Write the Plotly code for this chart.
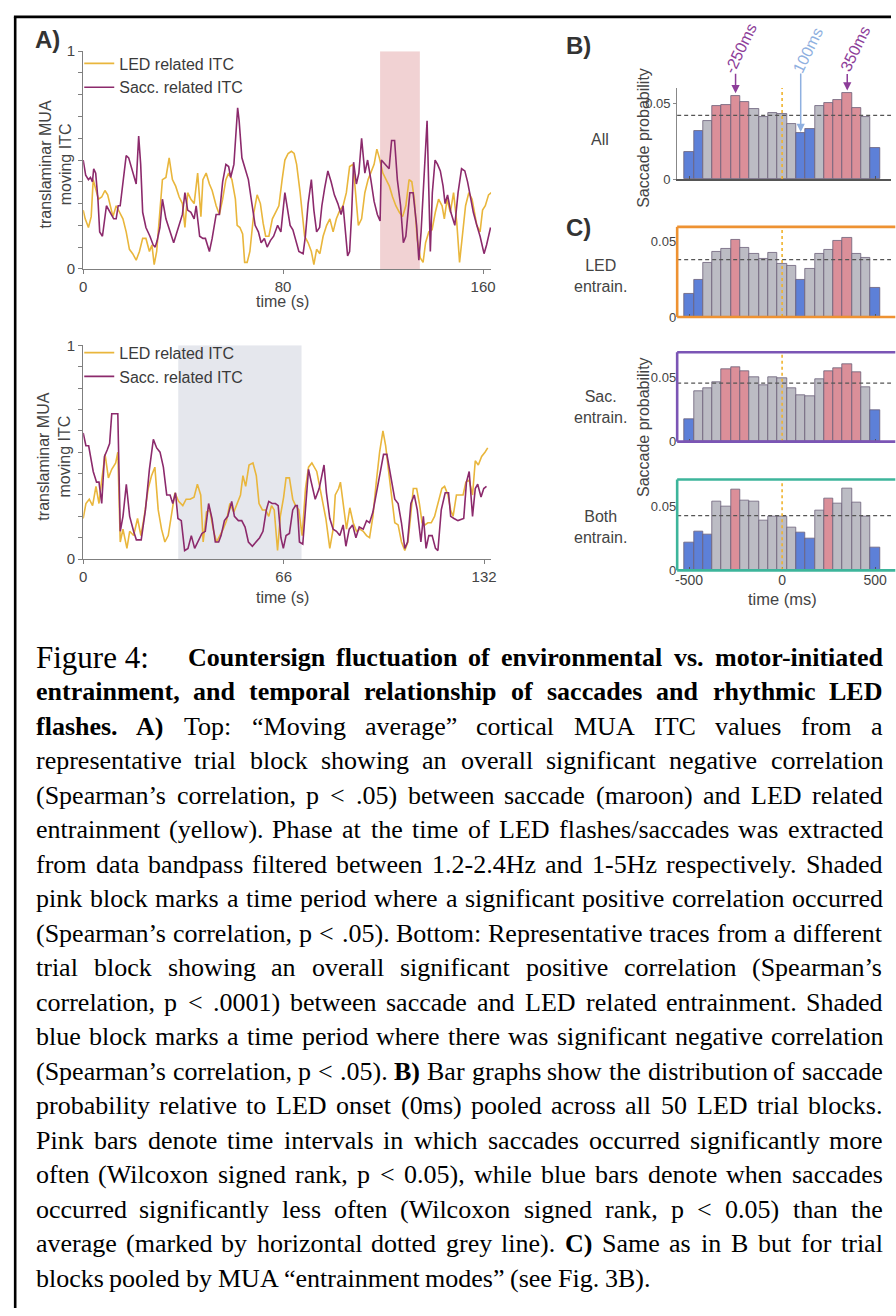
import plotly.graph_objects as go

W, H = 896, 1316
def px(x): return x / W
def py(y): return 1 - y / H

SANS = "Liberation Sans, Arial, Helvetica, sans-serif"
SERIF = "Liberation Serif, Times New Roman, serif"
YELLOW = "#e9b63c"
MAROON = "#8c2a6c"
BLUE = "#5d80d8"
PINK = "#db8f99"
GREY = "#bcbcc4"
C_LED = "#ee9232"
C_SAC = "#7b55b5"
C_BOTH = "#3db59b"
TXT = "#3a3a3a"

# ---------------- Panel A (top) ----------------
top_t_sacc = [0.0, 1.0, 2.1, 2.9, 3.7, 4.2, 5.0, 5.9, 6.6, 7.7,
              9.3, 10.6, 12.2, 13.2, 14.0, 14.8, 17.2, 18.2, 19.8, 21.2,
              22.2, 23.0, 23.8, 25.1, 26.7, 28.0, 28.8, 29.6, 30.7, 31.7,
              33.1, 34.4, 36.2, 37.8, 39.7, 40.7, 41.8, 43.1, 44.4, 45.2,
              46.6, 47.9, 48.9, 50.5, 51.6, 53.2, 54.5, 55.8, 57.1, 58.2,
              59.0, 60.3, 61.8, 62.4, 63.5, 64.8, 66.1, 67.5, 68.8, 70.1,
              71.2, 72.5, 73.6, 74.9, 76.2, 77.8, 79.1, 80.7, 81.8, 82.8,
              83.9, 84.9, 86.3, 88.0, 88.9, 90.0, 91.3, 92.3, 93.4, 94.6,
              95.5, 96.6, 97.9, 99.2, 100.5, 101.9, 103.2, 104.0, 105.8, 106.6,
              107.4, 108.2, 109.3, 110.3, 111.4, 112.7, 113.8, 115.1, 116.4, 117.7,
              118.8, 119.3, 121.0, 122.4, 123.4, 124.6, 125.7, 127.0, 128.1, 129.1,
              130.7, 132.0, 133.4, 134.3, 135.2, 137.6, 138.9, 139.7, 140.8, 141.8,
              142.9, 144.0, 144.8, 145.8, 147.1, 148.7, 150.0, 151.4, 152.7, 153.8,
              154.8, 156.1, 157.5, 158.8, 160.4, 161.4, 163.0]
top_sacc = [0.50, 0.43, 0.41, 0.42, 0.40, 0.46, 0.44, 0.32, 0.17, 0.15,
            0.29, 0.26, 0.23, 0.23, 0.29, 0.29, 0.52, 0.51, 0.45, 0.39,
            0.61, 0.48, 0.26, 0.19, 0.15, 0.11, 0.10, 0.13, 0.19, 0.32,
            0.23, 0.18, 0.12, 0.18, 0.25, 0.35, 0.27, 0.26, 0.23, 0.29,
            0.15, 0.14, 0.14, 0.08, 0.14, 0.25, 0.25, 0.40, 0.48, 0.47,
            0.42, 0.48, 0.74, 0.68, 0.51, 0.46, 0.41, 0.30, 0.20, 0.17,
            0.12, 0.14, 0.10, 0.13, 0.15, 0.20, 0.17, 0.35, 0.26, 0.20,
            0.18, 0.14, 0.08, 0.07, 0.15, 0.30, 0.41, 0.27, 0.17, 0.19,
            0.29, 0.37, 0.45, 0.40, 0.34, 0.30, 0.25, 0.29, 0.06, 0.08,
            0.25, 0.49, 0.39, 0.44, 0.60, 0.44, 0.50, 0.41, 0.31, 0.25,
            0.22, 0.50, 0.48, 0.46, 0.59, 0.59, 0.41, 0.29, 0.12, 0.15,
            0.35, 0.35, 0.20, 0.04, 0.17, 0.68, 0.08, 0.35, 0.50, 0.48,
            0.45, 0.38, 0.30, 0.34, 0.26, 0.20, 0.35, 0.46, 0.45, 0.40,
            0.34, 0.26, 0.20, 0.15, 0.07, 0.11, 0.19]
top_t_led = [0.0, 0.8, 2.1, 3.2, 4.0, 5.0, 6.1, 7.4, 8.7, 9.8,
             10.8, 11.9, 13.2, 14.5, 15.9, 17.2, 18.5, 19.8, 21.2, 22.5,
             23.8, 25.1, 26.5, 27.5, 28.4, 29.4, 30.4, 31.7, 33.1, 34.4,
             35.7, 37.0, 38.4, 39.7, 40.7, 41.8, 43.1, 44.4, 45.8, 47.1,
             47.9, 49.2, 50.5, 51.6, 53.2, 54.5, 55.8, 57.1, 58.2, 59.5,
             60.9, 61.6, 62.7, 63.8, 64.6, 65.6, 66.7, 68.3, 69.6, 70.9,
             72.0, 73.0, 74.3, 75.7, 77.0, 78.3, 79.6, 80.7, 82.0, 83.3,
             84.4, 85.4, 86.8, 87.6, 88.6, 90.0, 91.3, 92.3, 93.4, 94.7,
             96.0, 97.4, 98.7, 100.0, 101.3, 102.7, 104.0, 105.3, 106.6, 108.0,
             109.0, 110.1, 111.4, 112.7, 114.0, 115.4, 116.4, 117.5, 118.5, 119.9,
             121.2, 122.5, 123.8, 125.1, 126.5, 127.8, 129.1, 130.4, 131.5, 132.5,
             133.6, 134.9, 136.0, 137.0, 138.3, 139.6, 140.9, 142.2, 143.6, 144.5,
             145.6, 146.9, 148.2, 149.5, 150.6, 151.6, 153.0, 154.3, 155.6, 156.4,
             157.5, 158.8, 159.8, 160.9, 162.2, 163.3]
top_led = [0.27, 0.23, 0.19, 0.24, 0.41, 0.37, 0.32, 0.33, 0.36, 0.34,
           0.29, 0.24, 0.29, 0.26, 0.23, 0.17, 0.09, 0.07, 0.04, 0.08,
           0.14, 0.14, 0.08, 0.11, 0.02, 0.08, 0.21, 0.41, 0.42, 0.51,
           0.41, 0.38, 0.33, 0.30, 0.19, 0.35, 0.32, 0.30, 0.44, 0.24,
           0.41, 0.44, 0.39, 0.36, 0.29, 0.25, 0.32, 0.41, 0.44, 0.41,
           0.32, 0.20, 0.19, 0.16, 0.03, 0.03, 0.08, 0.26, 0.34, 0.30,
           0.21, 0.15, 0.15, 0.23, 0.26, 0.29, 0.41, 0.50, 0.53, 0.54,
           0.53, 0.48, 0.35, 0.26, 0.15, 0.12, 0.08, 0.02, 0.09, 0.07,
           0.15, 0.20, 0.23, 0.17, 0.23, 0.27, 0.29, 0.35, 0.47, 0.48,
           0.35, 0.20, 0.23, 0.35, 0.41, 0.45, 0.48, 0.55, 0.51, 0.44,
           0.41, 0.38, 0.33, 0.29, 0.26, 0.24, 0.29, 0.41, 0.40, 0.32,
           0.14, 0.05, 0.03, 0.12, 0.17, 0.18, 0.26, 0.32, 0.29, 0.23,
           0.32, 0.26, 0.35, 0.21, 0.03, 0.14, 0.29, 0.35, 0.32, 0.27,
           0.20, 0.17, 0.27, 0.29, 0.34, 0.35]
top_shade = [118.8, 134.7]

# ---------------- Panel A (bottom) ----------------
bot_t_sacc = [0.0, 0.9, 1.8, 2.6, 3.3, 4.4, 5.2, 6.1, 7.0, 7.9,
              8.7, 9.4, 11.4, 12.2, 13.1, 14.2, 15.3, 16.6, 17.5, 19.1,
              20.5, 21.8, 23.1, 24.2, 25.3, 26.4, 27.5, 28.6, 29.5, 30.4,
              31.2, 32.3, 33.4, 34.5, 35.6, 36.7, 37.8, 39.1, 40.2, 41.3,
              42.4, 43.5, 44.6, 45.4, 46.5, 47.6, 48.9, 49.8, 51.1, 52.2,
              53.3, 54.4, 55.7, 56.8, 58.1, 59.2, 60.3, 61.1, 62.2, 63.3,
              64.2, 65.1, 65.9, 66.8, 67.9, 69.0, 69.9, 70.5, 71.2, 72.3,
              73.4, 74.2, 75.1, 76.4, 77.7, 79.3, 80.1, 81.2, 82.3, 83.4,
              84.5, 85.6, 86.5, 87.6, 88.7, 89.8, 90.9, 92.2, 93.3, 94.3,
              95.4, 96.5, 97.6, 98.9, 100.0, 100.9, 101.8, 102.6, 103.7, 104.8,
              105.9, 106.8, 107.9, 109.0, 110.0, 111.2, 112.0, 112.9, 113.8, 114.9,
              116.0, 116.8, 117.9, 119.2, 120.3, 121.0, 122.1, 123.4, 125.3, 126.2,
              127.1, 128.2, 129.1, 129.9, 131.0, 131.9, 132.8]
bot_sacc = [0.59, 0.53, 0.53, 0.46, 0.41, 0.36, 0.36, 0.26, 0.48, 0.51,
            0.54, 0.68, 0.68, 0.13, 0.20, 0.35, 0.20, 0.13, 0.09, 0.09,
            0.23, 0.42, 0.56, 0.52, 0.50, 0.43, 0.30, 0.30, 0.26, 0.31,
            0.19, 0.18, 0.04, 0.05, 0.11, 0.05, 0.08, 0.12, 0.13, 0.26,
            0.19, 0.08, 0.08, 0.11, 0.18, 0.20, 0.27, 0.20, 0.18, 0.18,
            0.15, 0.08, 0.06, 0.08, 0.10, 0.13, 0.23, 0.27, 0.26, 0.26,
            0.25, 0.10, 0.05, 0.11, 0.12, 0.23, 0.25, 0.25, 0.08, 0.07,
            0.26, 0.42, 0.36, 0.28, 0.33, 0.44, 0.31, 0.19, 0.14, 0.13,
            0.11, 0.16, 0.06, 0.14, 0.16, 0.10, 0.15, 0.14, 0.18, 0.17,
            0.22, 0.30, 0.39, 0.49, 0.49, 0.42, 0.34, 0.28, 0.26, 0.17,
            0.05, 0.08, 0.26, 0.30, 0.23, 0.08, 0.20, 0.05, 0.11, 0.11,
            0.05, 0.04, 0.23, 0.31, 0.31, 0.20, 0.19, 0.18, 0.19, 0.36,
            0.41, 0.20, 0.33, 0.35, 0.29, 0.33, 0.34]
bot_t_led = [0.0, 0.9, 2.0, 3.1, 4.2, 5.2, 6.1, 7.2, 8.3, 9.4,
             10.7, 11.4, 12.2, 13.1, 14.4, 15.3, 16.6, 17.9, 19.0, 20.1,
             21.4, 22.5, 23.6, 24.7, 25.8, 26.9, 28.0, 29.0, 30.2, 31.4,
             32.8, 33.9, 35.2, 36.5, 37.6, 38.7, 39.5, 40.6, 41.7, 42.8,
             43.9, 45.0, 46.1, 47.2, 48.3, 49.6, 50.7, 51.8, 52.6, 53.5,
             54.6, 55.9, 57.0, 57.9, 59.0, 60.1, 61.1, 62.0, 62.9, 64.0,
             64.9, 66.0, 66.8, 67.9, 69.0, 69.9, 71.0, 72.1, 73.2, 74.2,
             75.3, 76.9, 78.4, 79.9, 81.2, 82.3, 83.0, 84.1, 84.7, 85.6,
             86.7, 87.8, 88.9, 90.0, 91.1, 92.2, 93.3, 94.3, 95.4, 96.5,
             97.6, 98.7, 99.6, 100.5, 101.5, 102.6, 103.7, 104.8, 105.9, 106.9,
             107.6, 108.7, 109.8, 110.7, 111.6, 112.5, 113.5, 114.6, 115.7, 116.8,
             118.1, 119.0, 120.1, 121.0, 121.8, 122.9, 124.0, 125.1, 126.0, 127.1,
             128.2, 129.1, 130.1, 131.2, 132.3, 133.2]
bot_led = [0.19, 0.26, 0.28, 0.25, 0.34, 0.26, 0.37, 0.49, 0.38, 0.42,
           0.45, 0.50, 0.08, 0.14, 0.05, 0.13, 0.11, 0.19, 0.11, 0.20,
           0.33, 0.39, 0.43, 0.23, 0.14, 0.08, 0.11, 0.20, 0.31, 0.27,
           0.25, 0.28, 0.28, 0.29, 0.35, 0.30, 0.08, 0.22, 0.23, 0.14,
           0.08, 0.11, 0.14, 0.18, 0.26, 0.22, 0.26, 0.30, 0.39, 0.34,
           0.44, 0.45, 0.39, 0.26, 0.23, 0.23, 0.20, 0.25, 0.23, 0.04,
           0.20, 0.29, 0.38, 0.38, 0.28, 0.25, 0.23, 0.11, 0.33, 0.43,
           0.45, 0.41, 0.30, 0.19, 0.05, 0.14, 0.30, 0.33, 0.36, 0.25,
           0.14, 0.24, 0.17, 0.13, 0.14, 0.13, 0.11, 0.10, 0.20, 0.36,
           0.50, 0.60, 0.53, 0.42, 0.30, 0.17, 0.16, 0.08, 0.04, 0.08,
           0.17, 0.33, 0.33, 0.26, 0.17, 0.16, 0.17, 0.17, 0.20, 0.26,
           0.33, 0.34, 0.30, 0.23, 0.20, 0.30, 0.30, 0.30, 0.36, 0.37,
           0.30, 0.46, 0.44, 0.48, 0.50, 0.52]
bot_shade = [31.3, 71.9]

itc_ticks = [0, 0.1, 0.2, 0.3, 0.4, 0.5, 0.6, 0.7, 0.8, 0.9, 1.0]
itc_ticktext = ["0", "", "", "", "", "", "", "", "", "", "1"]

# ---------------- Panels B / C ----------------
bin_centers = [-500, -450, -400, -350, -300, -250, -200, -150, -100, -50, 0,
               50, 100, 150, 200, 250, 300, 350, 400, 450, 500]
prob_all = [0.0179, 0.0319, 0.0389, 0.0487, 0.0493, 0.0552, 0.0509, 0.0463, 0.0410, 0.0437, 0.0434,
            0.0369, 0.0303, 0.0336, 0.0483, 0.0504, 0.0526, 0.0570, 0.0472, 0.0410, 0.0205]
class_all = ["b", "b", "g", "p", "p", "p", "p", "g", "g", "g", "g",
             "g", "b", "b", "g", "p", "p", "p", "p", "g", "b"]
prob_led = [0.0154, 0.0248, 0.0362, 0.0434, 0.0452, 0.0511, 0.0458, 0.0421, 0.0388, 0.0425, 0.0357,
            0.0342, 0.0248, 0.0320, 0.0419, 0.0447, 0.0509, 0.0524, 0.0421, 0.0395, 0.0197]
class_led = ["b", "b", "g", "g", "g", "p", "g", "g", "g", "g", "g",
             "g", "b", "g", "g", "g", "p", "p", "g", "g", "b"]
prob_sac = [0.0174, 0.0395, 0.0420, 0.0462, 0.0562, 0.0577, 0.0546, 0.0503, 0.0436, 0.0500, 0.0497,
            0.0413, 0.0359, 0.0356, 0.0485, 0.0546, 0.0574, 0.0600, 0.0538, 0.0426, 0.0244]
class_sac = ["b", "g", "g", "g", "p", "p", "p", "g", "g", "g", "g",
             "g", "g", "g", "g", "p", "p", "p", "p", "g", "b"]
prob_both = [0.0218, 0.0305, 0.0279, 0.0533, 0.0497, 0.0631, 0.0541, 0.0538, 0.0392, 0.0421, 0.0421,
             0.0336, 0.0295, 0.0246, 0.0469, 0.0559, 0.0521, 0.0638, 0.0526, 0.0418, 0.0179]
class_both = ["b", "b", "b", "g", "g", "p", "g", "g", "g", "g", "g",
              "g", "b", "b", "g", "p", "g", "g", "g", "g", "b"]
mean_all, mean_led, mean_sac, mean_both = 0.0423, 0.0382, 0.0456, 0.0426
prob_ticks = [0, 0.05]
prob_ticktext = ["0", "0.05"]
ms_ticks = [-500, 0, 500]
ms_ticktext = ["-500", "0", "500"]
COLOR = {"b": BLUE, "p": PINK, "g": GREY}

fig = go.Figure()

# A traces
fig.add_trace(go.Scatter(x=top_t_led, y=top_led, mode="lines", name="LED related ITC",
                         line=dict(color=YELLOW, width=1.6), xaxis="x", yaxis="y", legend="legend"))
fig.add_trace(go.Scatter(x=top_t_sacc, y=top_sacc, mode="lines", name="Sacc. related ITC",
                         line=dict(color=MAROON, width=1.6), xaxis="x", yaxis="y", legend="legend"))
fig.add_trace(go.Scatter(x=bot_t_led, y=bot_led, mode="lines", name="LED related ITC",
                         line=dict(color=YELLOW, width=1.6), xaxis="x2", yaxis="y2", legend="legend2"))
fig.add_trace(go.Scatter(x=bot_t_sacc, y=bot_sacc, mode="lines", name="Sacc. related ITC",
                         line=dict(color=MAROON, width=1.6), xaxis="x2", yaxis="y2", legend="legend2"))

bar_panels = [("x3", "y3", prob_all, class_all, mean_all),
              ("x4", "y4", prob_led, class_led, mean_led),
              ("x5", "y5", prob_sac, class_sac, mean_sac),
              ("x6", "y6", prob_both, class_both, mean_both)]
for xa, ya, vals, cls, mean in bar_panels:
    fig.add_trace(go.Bar(x=bin_centers, y=vals, width=50,
                         marker=dict(color=[COLOR[c] for c in cls], line=dict(color="#6b6079", width=0.8)),
                         xaxis=xa, yaxis=ya, showlegend=False))

axA = dict(showline=True, linecolor="#7f7f7f", linewidth=1.3, ticks="outside", ticklen=4,
           tickwidth=1.2, tickcolor="#7f7f7f", showgrid=False, zeroline=False,
           tickfont=dict(family=SANS, size=15, color="#444"))

layout = dict(
    width=W, height=H, margin=dict(l=0, r=0, t=0, b=0),
    paper_bgcolor="white", plot_bgcolor="rgba(0,0,0,0)", bargap=0,
    xaxis=dict(domain=[px(80), px(492)], range=[0, 163.2], tickvals=[0, 80, 160], anchor="y", **axA),
    yaxis=dict(domain=[py(263.3), py(42.7)], range=[0, 1], tickvals=itc_ticks, ticktext=itc_ticktext, anchor="x", **axA),
    xaxis2=dict(domain=[px(80), px(492)], range=[0, 134.3], tickvals=[0, 66, 132], anchor="y2", **axA),
    yaxis2=dict(domain=[py(557.3), py(340.7)], range=[0, 1], tickvals=itc_ticks, ticktext=itc_ticktext, anchor="x2", **axA),
    legend=dict(x=px(76), y=py(38), xanchor="left", yanchor="top", bgcolor="rgba(0,0,0,0)",
                font=dict(family=SANS, size=16, color=TXT), itemwidth=30, tracegroupgap=0),
    legend2=dict(x=px(76), y=py(331), xanchor="left", yanchor="top", bgcolor="rgba(0,0,0,0)",
                 font=dict(family=SANS, size=16, color=TXT), itemwidth=30, tracegroupgap=0),
)

bx_dom = [px(680), 1.0]
xr = [-563.8, 585.1]
layout["xaxis3"] = dict(domain=bx_dom, range=xr, anchor="y3", showline=True, linecolor="#555", linewidth=1.5,
                        ticks="inside", ticklen=3, tickcolor="#555", tickvals=ms_ticks, showticklabels=False,
                        showgrid=False, zeroline=False)
layout["yaxis3"] = dict(domain=[py(172.3), py(80)], range=[0, 0.0605], anchor="x3", showline=True,
                        linecolor="#888", linewidth=1, ticks="outside", ticklen=3, tickcolor="#888",
                        tickvals=prob_ticks, ticktext=prob_ticktext, showgrid=False, zeroline=False,
                        tickfont=dict(family=SANS, size=13, color="#444"))
c_panels = [("4", C_LED, [py(312), py(220.7)], 0.06),
            ("5", C_SAC, [py(438.3), py(347.7)], 0.0697),
            ("6", C_BOTH, [py(568.7), py(476.7)], 0.0708)]
for k, col, dom, top in c_panels:
    layout["xaxis" + k] = dict(domain=bx_dom, range=xr, anchor="y" + k, showline=False,
                               ticks="inside", ticklen=3, tickcolor="#555",
                               tickvals=ms_ticks, ticktext=ms_ticktext, showticklabels=(k == "6"),
                               tickfont=dict(family=SANS, size=14, color="#444"),
                               showgrid=False, zeroline=False)
    layout["yaxis" + k] = dict(domain=dom, range=[0, top], anchor="x" + k, showline=False,
                               ticks="", tickvals=prob_ticks, ticktext=prob_ticktext,
                               showgrid=False, zeroline=False,
                               tickfont=dict(family=SANS, size=13, color="#444"))
fig.update_layout(**layout)

shapes = []
# frame lines
shapes.append(dict(type="line", xref="paper", yref="paper", x0=px(10), x1=1, y0=py(8), y1=py(8),
                   line=dict(color="black", width=2.6)))
shapes.append(dict(type="line", xref="paper", yref="paper", x0=px(11.3), x1=px(11.3), y0=py(8), y1=0,
                   line=dict(color="black", width=2.6)))
# shaded periods
shapes.append(dict(type="rect", xref="x", yref="y", x0=top_shade[0], x1=top_shade[1], y0=0, y1=1,
                   fillcolor="#f1d2d3", line=dict(width=0), layer="below"))
shapes.append(dict(type="rect", xref="x2", yref="y2", x0=bot_shade[0], x1=bot_shade[1], y0=0, y1=1,
                   fillcolor="#e5e7ed", line=dict(width=0), layer="below"))
for xa, ya, vals, cls, mean in bar_panels:
    shapes.append(dict(type="line", xref=xa + " domain", yref=ya, x0=0, x1=1, y0=mean, y1=mean,
                       line=dict(color="#555", width=1.3, dash="4px,3px")))
    shapes.append(dict(type="line", xref=xa, yref=ya + " domain", x0=0, x1=0, y0=0, y1=1,
                       line=dict(color="#f0b32e", width=1.6, dash="dot")))
# coloured frames of the C panels (top, bottom, left; right side is cut by the image edge)
for k, col, dom, top in c_panels:
    xd, yd = "x%s domain" % k, "y%s domain" % k
    for (x0, x1, y0, y1) in [(0, 1.02, 0, 0), (0, 1.02, 1, 1), (0, 0, 0, 1)]:
        shapes.append(dict(type="line", xref=xd, yref=yd, x0=x0, x1=x1, y0=y0, y1=y1,
                           line=dict(color=col, width=2.6)))
fig.update_layout(shapes=shapes)

ann = []
def label(x, y, text, size=16, color=TXT, bold=False, angle=0, family=SANS):
    ann.append(dict(x=px(x), y=py(y), xref="paper", yref="paper", text=("<b>%s</b>" % text) if bold else text,
                    showarrow=False, textangle=angle, font=dict(family=family, size=size, color=color),
                    xanchor="center", yanchor="middle"))

label(43.5, 31, "A)", 24, "#333", True)
label(580, 36.5, "B)", 24, "#333", True)
label(580, 221, "C)", 24, "#333", True)
label(52, 157, "translaminar MUA<br>moving ITC", 16, "#444", angle=-90)
label(51, 453, "translaminar MUA<br>moving ITC", 16, "#444", angle=-90)
label(281, 296, "time (s)", 16, "#444")
label(281, 596, "time (s)", 16, "#444")
label(602, 132, "All", 16, "#444")
label(603, 270, "LED<br>entrain.", 16, "#444")
label(603, 403, "Sac.<br>entrain.", 16, "#444")
label(603, 525, "Both<br>entrain.", 16, "#444")
label(646, 131, "Saccade probability", 16, "#444", angle=-90)
label(646, 424, "Saccade probability", 16, "#444", angle=-90)
label(786, 598, "time (ms)", 16.5, "#444")

PURP = "#8d3d99"
LBLUE = "#8fb0e0"
arrows = [(-250, 0.0570, -21, PURP, "-250ms", 744, 40),
          (100, 0.0312, -60, LBLUE, "100ms", 812, 42),
          (350, 0.0588, -18, PURP, "350ms", 860, 40)]
for xv, yv, ay, col, txt, tx, ty in arrows:
    ann.append(dict(x=xv, y=yv, xref="x3", yref="y3", ax=0, ay=ay, text="", showarrow=True,
                    arrowhead=2, arrowsize=1.1, arrowwidth=1.5, arrowcolor=col, standoff=0))
    label(tx, ty, txt, 16, col, angle=-64)

# ---------------- Caption ----------------
REG = dict(zip("abcdefghijklmnopqrstuvwxyz",
               [444, 500, 444, 500, 444, 333, 500, 500, 278, 278, 500, 278, 778, 500, 500, 500, 500, 333, 389, 278, 500, 500, 722, 500, 500, 444]))
REG.update(zip("ABCDEFGHIJKLMNOPQRSTUVWXYZ",
               [722, 667, 667, 722, 611, 556, 722, 722, 333, 389, 722, 611, 889, 722, 722, 556, 722, 667, 556, 611, 722, 722, 944, 722, 722, 611]))
REG.update({c: 500 for c in "0123456789"})
REG.update({" ": 250, ".": 250, ",": 250, ":": 278, ";": 278, "(": 333, ")": 333, "-": 333,
            "\u201c": 444, "\u201d": 444, "\u2019": 333, "<": 564, ">": 564, "/": 278})
BOLD = dict(zip("abcdefghijklmnopqrstuvwxyz",
                [500, 556, 444, 556, 444, 333, 500, 556, 278, 333, 556, 278, 833, 556, 500, 556, 556, 444, 389, 333, 556, 500, 722, 500, 500, 444]))
BOLD.update(zip("ABCDEFGHIJKLMNOPQRSTUVWXYZ",
                [722, 667, 722, 722, 667, 611, 778, 778, 389, 500, 778, 667, 944, 722, 778, 611, 778, 722, 556, 667, 722, 722, 1000, 722, 722, 667]))
BOLD.update({c: 500 for c in "0123456789"})
BOLD.update({" ": 250, ".": 250, ",": 250, ":": 333, "(": 333, ")": 333, "-": 333})

caption_lines = [
    [("Countersign fluctuation of environmental vs. motor-initiated", True)],
    [("entrainment, and temporal relationship of saccades and rhythmic LED", True)],
    [("flashes. A)", True), ("Top: \u201cMoving average\u201d cortical MUA ITC values from a", False)],
    [("representative trial block showing an overall significant negative correlation", False)],
    [("(Spearman\u2019s correlation, p < .05) between saccade (maroon) and LED related", False)],
    [("entrainment (yellow). Phase at the time of LED flashes/saccades was extracted", False)],
    [("from data bandpass filtered between 1.2-2.4Hz and 1-5Hz respectively. Shaded", False)],
    [("pink block marks a time period where a significant positive correlation occurred", False)],
    [("(Spearman\u2019s correlation, p < .05). Bottom: Representative traces from a different", False)],
    [("trial block showing an overall significant positive correlation (Spearman\u2019s", False)],
    [("correlation, p < .0001) between saccade and LED related entrainment. Shaded", False)],
    [("blue block marks a time period where there was significant negative correlation", False)],
    [("(Spearman\u2019s correlation, p < .05).", False), ("B)", True), ("Bar graphs show the distribution of saccade", False)],
    [("probability relative to LED onset (0ms) pooled across all 50 LED trial blocks.", False)],
    [("Pink bars denote time intervals in which saccades occurred significantly more", False)],
    [("often (Wilcoxon signed rank, p < 0.05), while blue bars denote when saccades", False)],
    [("occurred significantly less often (Wilcoxon signed rank, p < 0.05) than the", False)],
    [("average (marked by horizontal dotted grey line).", False), ("C)", True), ("Same as in B but for trial", False)],
    [("blocks pooled by MUA \u201centrainment modes\u201d (see Fig. 3B).", False)],
]
CAP = 26
LEFT, RIGHT = 31, 886
Y0, STEP = 657, 34.93

def word_w(w, b, size):
    tab = BOLD if b else REG
    return sum(tab.get(c, 500) for c in w) * size / 1000.0

def place_words(words, x0, x1, size, justify):
    widths = [word_w(w, b, size) for w, b in words]
    n = len(words) - 1
    gap = 0.25 * size
    if justify and n > 0:
        gap = max((x1 - x0 - sum(widths)) / n, 0.1 * size)
    out, x = [], x0
    for (w, b), wd in zip(words, widths):
        out.append((w, b, x))
        x += wd + gap
    return out

def word_ann(w, b, x, y, size):
    t = w.replace("<", "&lt;")
    ann.append(dict(x=px(x), y=py(y), xref="paper", yref="paper", text=("<b>%s</b>" % t) if b else t,
                    showarrow=False, xanchor="left", yanchor="middle", borderpad=0,
                    font=dict(family=SERIF, size=size, color="black")))

word_ann("Figure 4:", False, LEFT, Y0, 31)
for i, segs in enumerate(caption_lines):
    words = []
    for text, b in segs:
        words += [(w, b) for w in text.split(" ")]
    y = Y0 + STEP * i
    x0 = 185 if i == 0 else LEFT
    justify = i != len(caption_lines) - 1
    for w, b, x in place_words(words, x0, RIGHT, CAP, justify):
        word_ann(w, b, x, y, CAP)

fig.update_layout(annotations=ann)
fig.write_html("out.html")
